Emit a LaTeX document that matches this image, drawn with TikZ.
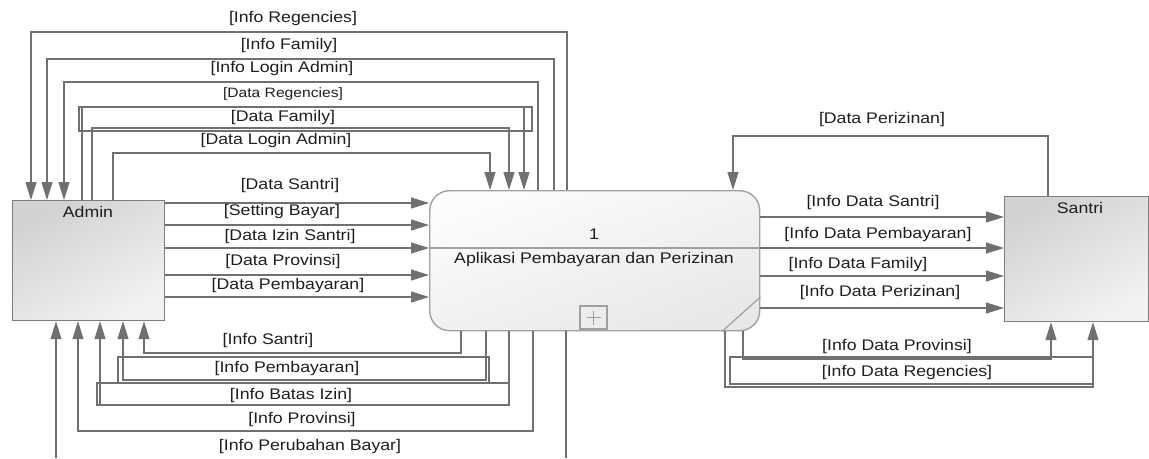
\documentclass[tikz,border=0pt]{standalone}
\usepackage{fontspec}
\setmainfont[FakeStretch=1.15]{Liberation Sans}
\usetikzlibrary{arrows.meta}
\definecolor{linec}{RGB}{112,112,112}
\definecolor{txtc}{RGB}{30,30,30}
\definecolor{boxedge}{RGB}{125,125,125}
\definecolor{procedge}{RGB}{160,160,160}
\definecolor{entdark}{RGB}{210,210,210}
\definecolor{entlight}{RGB}{242,242,242}
\definecolor{proclight}{RGB}{252,252,252}
\definecolor{procdark}{RGB}{232,232,232}
\newcommand\lblfont{\fontsize{15.4}{18}\selectfont}
\newcommand\smlfont{\fontsize{13.6}{16}\selectfont}
\begin{document}
\begin{tikzpicture}[x=1pt,y=-1pt,
  flow/.style={draw=linec, line width=1.2pt},
  arr/.style={flow, -{Triangle[length=18pt,width=11pt]}},
  lbl/.style={text=txtc, font=\lblfont, inner sep=0pt},
  entity/.style={draw=boxedge, line width=1.2pt, top color=entdark, bottom color=entlight,
    shading angle=30, anchor=north west, inner sep=0pt},
  process/.style={draw=procedge, line width=1.4pt, rounded corners=20pt, top color=proclight,
    bottom color=procdark, shading angle=20, anchor=north west, inner sep=0pt}]
\useasboundingbox (0,0) rectangle (1149,458);

% external entities and the process
\node[entity, minimum width=152pt, minimum height=120pt] (admin) at (12,200) {};
\node[entity, minimum width=144pt, minimum height=125pt] (santri) at (1004,196) {};
\node[process, minimum width=330pt, minimum height=140pt] (proc) at (429,190) {};
\node[lbl] (adminlbl) at (88,212) {Admin};
\node[lbl] (santrilbl) at (1080,208) {Santri};
\node[lbl] (pnum) at (594,234) {1};
\node[lbl] (ptitle) at (594,260) {Aplikasi Pembayaran dan Perizinan};
\draw[draw=procedge, line width=1.2pt] (proc.west |- 0,248) -- (proc.east |- 0,248);
\draw[draw=procedge, line width=1.2pt] (722,0 |- proc.south) -- (proc.east |- 0,297);
\node[draw=procedge, line width=1.2pt, minimum width=27pt, minimum height=23pt, inner sep=0pt]
  (pplus) at (593.5,317.5) {};
\draw[draw=procedge, line width=1pt] ([xshift=-7pt]pplus.center) -- ([xshift=7pt]pplus.center);
\draw[draw=procedge, line width=1pt] ([yshift=-7pt]pplus.center) -- ([yshift=7pt]pplus.center);

% flows over the top: process -> Admin
\draw[arr] (567,0 |- proc.north) |- (31,32) -- (31,0 |- admin.north);
\draw[arr] (554,0 |- proc.north) |- (47,59) -- (47,0 |- admin.north);
\draw[arr] (538,0 |- proc.north) |- (64,82) -- (64,0 |- admin.north);
% flows over the top: Admin -> process
\draw[arr] (82,0 |- admin.north) |- (524,107) -- (524,0 |- proc.north);
\draw[arr] (92,0 |- admin.north) |- (509,128) -- (509,0 |- proc.north);
\draw[arr] (113,0 |- admin.north) |- (490,153) -- (490,0 |- proc.north);
\draw[flow] (79,107) rectangle (532,131);
\node[lbl] (l1) at (293,19) {[Info Regencies]};
\node[lbl] (l2) at (289,46) {[Info Family]};
\node[lbl] (l3) at (282,69) {[Info Login Admin]};
\node[lbl, font=\smlfont] (l4) at (283,94) {[Data Regencies]};
\node[lbl] (l5) at (283,118) {[Data Family]};
\node[lbl] (l6) at (276,141) {[Data Login Admin]};

% straight flows Admin -> process
\draw[arr] (admin.east |- 0,203) -- (proc.west |- 0,203);
\draw[arr] (admin.east |- 0,225) -- (proc.west |- 0,225);
\draw[arr] (admin.east |- 0,248) -- (proc.west |- 0,248);
\draw[arr] (admin.east |- 0,275) -- (proc.west |- 0,275);
\draw[arr] (admin.east |- 0,297) -- (proc.west |- 0,297);
\node[lbl] (l7) at (290,186) {[Data Santri]};
\node[lbl] (l8) at (282,212) {[Setting Bayar]};
\node[lbl] (l9) at (290,237) {[Data Izin Santri]};
\node[lbl] (l10) at (283,262) {[Data Provinsi]};
\node[lbl] (l11) at (288,286) {[Data Pembayaran]};

% flows underneath: process -> Admin
\draw[arr] (461,0 |- proc.south) |- (144,353) -- (144,0 |- admin.south);
\draw[arr] (486,0 |- proc.south) |- (123,380) -- (123,0 |- admin.south);
\draw[arr] (509,0 |- proc.south) |- (100,405) -- (100,0 |- admin.south);
\draw[arr] (533,0 |- proc.south) |- (78,431) -- (78,0 |- admin.south);
\coordinate (cutR) at (566,458);
\coordinate (cutL) at (56,458);
\draw[flow] (566,0 |- proc.south) -- (cutR);
\draw[arr] (cutL) -- (56,0 |- admin.south);
\draw[flow] (118,383) |- (489,357) -- (489,383);
\draw[flow] (509,383) -| (97,405) -- (100,405);
\node[lbl] (l12) at (268,341) {[Info Santri]};
\node[lbl] (l13) at (287,369) {[Info Pembayaran]};
\node[lbl] (l14) at (291,396) {[Info Batas Izin]};
\node[lbl] (l15) at (302,420) {[Info Provinsi]};
\node[lbl] (l16) at (310,447) {[Info Perubahan Bayar]};

% Santri side
\draw[arr] (1048,0 |- santri.north) |- (733,136) -- (733,0 |- proc.north);
\draw[arr] (proc.east |- 0,217) -- (santri.west |- 0,217);
\draw[arr] (proc.east |- 0,248) -- (santri.west |- 0,248);
\draw[arr] (proc.east |- 0,276) -- (santri.west |- 0,276);
\draw[arr] (proc.east |- 0,308) -- (santri.west |- 0,308);
\draw[arr] (743,0 |- proc.south) |- (1051,359) -- (1051,0 |- santri.south);
\draw[arr] (725,0 |- proc.south) |- (1093,387) -- (1093,0 |- santri.south);
\draw[flow] (1093,357) -| (730,384) -- (1093,384);
\node[lbl] (l17) at (882,120) {[Data Perizinan]};
\node[lbl] (l18) at (873,203) {[Info Data Santri]};
\node[lbl] (l19) at (878,235) {[Info Data Pembayaran]};
\node[lbl] (l20) at (858,265) {[Info Data Family]};
\node[lbl] (l21) at (880,293) {[Info Data Perizinan]};
\node[lbl] (l22) at (897,347) {[Info Data Provinsi]};
\node[lbl] (l23) at (907,373) {[Info Data Regencies]};
\end{tikzpicture}
\end{document}
